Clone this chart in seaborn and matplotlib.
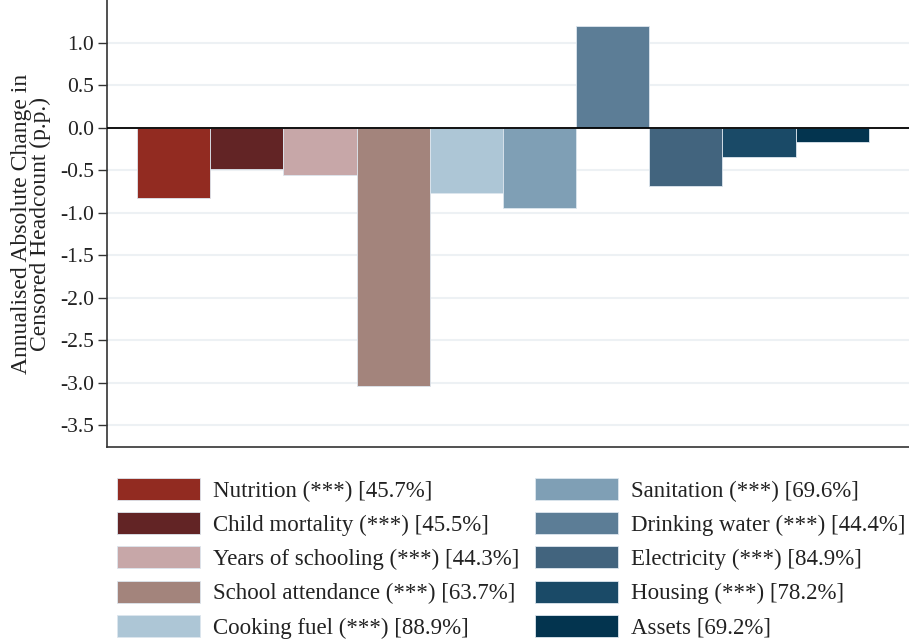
import matplotlib
matplotlib.use("Agg")
import matplotlib.pyplot as plt
import seaborn as sns
import pandas as pd

categories = ["Nutrition", "Child mortality", "Years of schooling", "School attendance",
              "Cooking fuel", "Sanitation", "Drinking water", "Electricity", "Housing", "Assets"]
values = [-0.83, -0.49, -0.56, -3.04, -0.77, -0.95, 1.20, -0.69, -0.34, -0.17]
legend_labels = ["Nutrition (***) [45.7%]", "Child mortality (***) [45.5%]",
                 "Years of schooling (***) [44.3%]", "School attendance (***) [63.7%]",
                 "Cooking fuel (***) [88.9%]", "Sanitation (***) [69.6%]",
                 "Drinking water (***) [44.4%]", "Electricity (***) [84.9%]",
                 "Housing (***) [78.2%]", "Assets [69.2%]"]
colors = ["#922b21", "#622425", "#c7a7a8", "#a3847c", "#adc6d6",
          "#7f9fb5", "#5c7d96", "#42647e", "#1a4a67", "#03344f"]
yticks = [1.0, 0.5, 0.0, -0.5, -1.0, -1.5, -2.0, -2.5, -3.0, -3.5]

sns.set_theme(style="white")
plt.rcParams["font.family"] = ["Liberation Serif", "DejaVu Serif"]
plt.rcParams["axes.unicode_minus"] = False

df = pd.DataFrame({"cat": categories, "val": values, "lab": legend_labels})

fig = plt.figure(figsize=(9.09, 6.42), dpi=100)
ax = fig.add_axes([0.1177, 0.3037, 0.8823, 0.6963])

sns.barplot(data=df, x="cat", y="val", hue="lab", palette=colors, dodge=False,
            width=1.0, edgecolor="#dde6ee", linewidth=0.6, saturation=1, ax=ax)

ax.set_xlim(-0.91, 10.05)
ax.set_ylim(-3.76, 1.506)
ax.set_yticks(yticks)
ax.set_yticklabels([f"{t:.1f}" for t in yticks], fontsize=15.5, color="#222222")
ax.set_xticks([])
ax.set_xlabel("")
ax.set_ylabel("Annualised Absolute Change in\nCensored Headcount (p.p.)", fontsize=17,
              color="#222222", labelpad=6, linespacing=0.92)
ax.yaxis.grid(True, color="#edf1f4", linewidth=1.5)
ax.set_axisbelow(True)
ax.axhline(0, color="black", linewidth=1.3, zorder=3)
ax.tick_params(axis="y", direction="out", length=6.5, width=1, color="#333333", left=True, pad=3)
for s in ["top", "right"]:
    ax.spines[s].set_visible(False)
for s in ["left", "bottom"]:
    ax.spines[s].set_color("#333333")
    ax.spines[s].set_linewidth(1.2)

handles, labels = ax.get_legend_handles_labels()
if ax.get_legend() is not None:
    ax.get_legend().remove()
leg = fig.legend(handles, labels, ncol=2, loc="upper left", bbox_to_anchor=(0.1287, 0.2555),
                 frameon=False, fontsize=16.5, handlelength=3.62, handleheight=1.09,
                 handletextpad=0.57, labelspacing=0.46, columnspacing=0.69,
                 borderaxespad=0, borderpad=0)
for t in leg.get_texts():
    t.set_color("#222222")

fig.savefig("out.png", dpi=100)
